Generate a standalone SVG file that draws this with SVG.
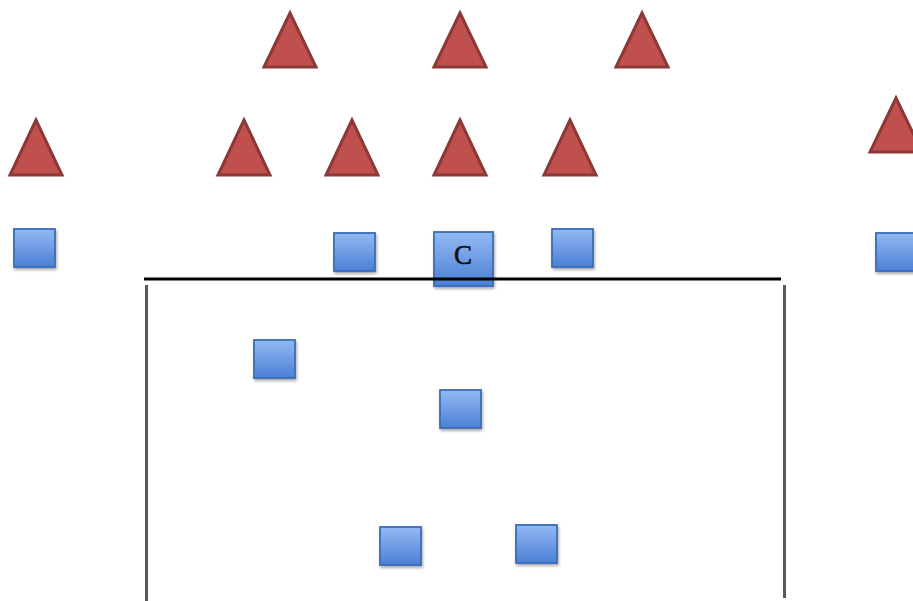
<svg xmlns="http://www.w3.org/2000/svg" width="913" height="601" viewBox="0 0 913 601">
<defs>
<linearGradient id="bg" x1="0" y1="0" x2="0" y2="1">
<stop offset="0" stop-color="#93b9f2"/>
<stop offset="1" stop-color="#4b80d6"/>
</linearGradient>
<filter id="sh" x="-20%" y="-20%" width="150%" height="150%">
<feGaussianBlur in="SourceAlpha" stdDeviation="1.5"/>
<feOffset dx="1" dy="2"/>
<feComponentTransfer><feFuncA type="linear" slope="0.35"/></feComponentTransfer>
<feMerge><feMergeNode/><feMergeNode in="SourceGraphic"/></feMerge>
</filter>
</defs>
<style>
.tri{fill:#c0504d;stroke:#8c3836;stroke-width:3;stroke-linejoin:miter}
.sq{fill:url(#bg);stroke:#3a6cb8;stroke-width:1.8;filter:url(#sh)}
.ln{stroke:#000;stroke-width:3}
.vl{stroke:#595959;stroke-width:3}
.t{font-family:"Liberation Serif","DejaVu Serif",serif;font-size:27px;fill:#111;text-anchor:middle;stroke:#111;stroke-width:0.6}
</style>
<rect width="913" height="601" fill="#fff"/>
<g id="triangles">
<polygon id="t1" class="tri" points="290,13 264,67 316,67"/>
<polygon id="t2" class="tri" points="460,13 434,67 486,67"/>
<polygon id="t3" class="tri" points="642,13 616,67 668,67"/>
<polygon id="t4" class="tri" points="36,120 10,175 62,175"/>
<polygon id="t5" class="tri" points="244,120 218,175 270,175"/>
<polygon id="t6" class="tri" points="352,120 326,175 378,175"/>
<polygon id="t7" class="tri" points="460,120 434,175 486,175"/>
<polygon id="t8" class="tri" points="570,120 544,175 596,175"/>
<polygon id="t9" class="tri" points="896,98 870,152 922,152"/>
</g>
<g id="squares">
<rect id="s1" class="sq" x="14" y="229" width="41" height="38"/>
<rect id="s2" class="sq" x="334" y="233" width="41" height="38"/>
<rect id="s3" class="sq" x="552" y="229" width="41" height="38"/>
<rect id="s4" class="sq" x="876" y="233" width="41" height="38"/>
<rect id="s5" class="sq" x="254" y="340" width="41" height="38"/>
<rect id="s6" class="sq" x="440" y="390" width="41" height="38"/>
<rect id="s7" class="sq" x="380" y="527" width="41" height="38"/>
<rect id="s8" class="sq" x="516" y="525" width="41" height="38"/>
</g>
<g id="nodeC">
<rect class="sq" x="434" y="232" width="59" height="54"/>
<text class="t" x="463" y="264">C</text>
</g>
<g id="connectors">
<line class="ln" x1="144" y1="279" x2="781" y2="279"/>
<line class="vl" x1="146.5" y1="285" x2="146.5" y2="601"/>
<line class="vl" x1="784.5" y1="285" x2="784.5" y2="598"/>
</g>
</svg>
